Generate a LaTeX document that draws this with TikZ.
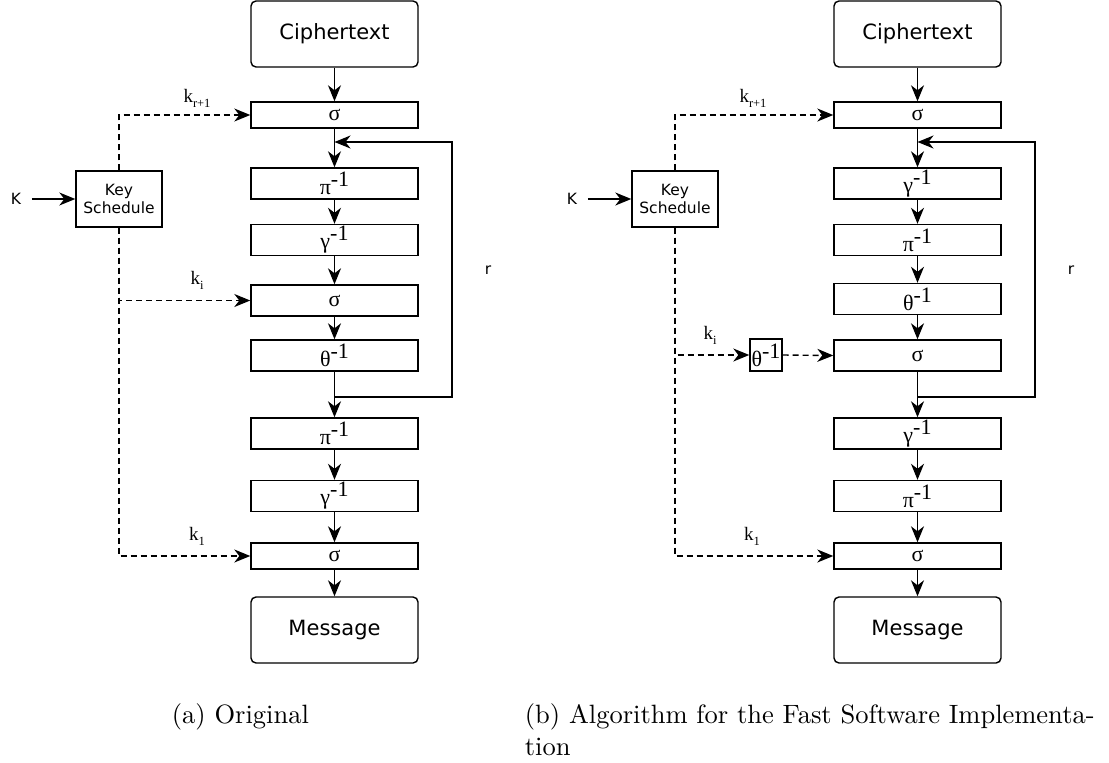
\documentclass[tikz,border=0pt]{standalone}
\usepackage{fontspec}
\usetikzlibrary{arrows.meta}
\newfontfamily\sansf{DejaVu Sans}
\newfontfamily\serf{Liberation Serif}
\newcommand{\inv}[1]{#1\raisebox{8pt}{-1}}
\newcommand{\klab}[1]{{\fontsize{19}{19}\selectfont k}\raisebox{-5pt}{\fontsize{12.5}{12.5}\selectfont #1}}
\tikzset{
  arr/.style={-{Stealth[length=16pt,width=13pt,inset=5pt]}},
  dsh/.style={dash pattern=on 6pt off 4pt},
  bigbox/.style={draw,rounded corners=5pt,minimum width=167pt,minimum height=66pt,inner sep=0pt,font=\sansf\fontsize{21}{21}\selectfont},
  opbox/.style={draw,minimum width=167pt,minimum height=31pt,inner sep=0pt,font=\serf\fontsize{22}{22}\selectfont},
  sgbox/.style={opbox,minimum height=26pt},
  ksbox/.style={draw,minimum width=86pt,minimum height=56pt,inner sep=0pt,align=center,font=\sansf\fontsize{15.5}{18}\selectfont},
  smallbox/.style={draw,minimum width=32pt,minimum height=32pt,inner sep=0pt,font=\serf\fontsize{22}{22}\selectfont},
  lab/.style={inner sep=0pt,font=\serf},
  slab/.style={inner sep=0pt,font=\sansf\fontsize{15.5}{15.5}\selectfont},
  captext/.style={inner sep=0pt,anchor=base west,align=left,scale=2.65,transform shape,font=\fontsize{10}{12}\selectfont}
}
\begin{document}
\begin{tikzpicture}[x=1pt,y=-1pt,line width=1.4pt]
\useasboundingbox (0,0) rectangle (1109,763);
% ---------- (a) ----------
\node[bigbox] (ca) at (334.5,34) {Ciphertext};
\node[sgbox] (as1) at (334.5,115) {σ};
\node[opbox] (ap1) at (334.5,183.5) {\inv{π}};
\node[opbox] (ag1) at (334.5,240) {\inv{γ}};
\node[opbox] (as2) at (334.5,300.5) {σ};
\node[opbox] (at1) at (334.5,355.5) {\inv{θ}};
\node[opbox] (ap2) at (334.5,433.5) {\inv{π}};
\node[opbox] (ag2) at (334.5,496) {\inv{γ}};
\node[sgbox] (as3) at (334.5,556) {σ};
\node[bigbox] (ma) at (334.5,630) {Message};
\node[ksbox] (ksa) at (119,199) {Key\\Schedule};
\node[slab] (Ka) at (16,199) {K};
\node[slab] (ra) at (488,270) {r};
\node[lab] (kra) at (197,98) {\klab{r+1}};
\node[lab] (kia) at (197,280) {\klab{i}};
\node[lab] (k1a) at (197,536) {\klab{1}};
\coordinate (la1) at (334.5,397);
\coordinate (la2) at (452,397);
\coordinate (la3) at (452,142);
\coordinate (la4) at (334.5,142);
\draw[arr] (ca) -- (as1);
\draw[arr] (as1) -- (ap1);
\draw[arr] (ap1) -- (ag1);
\draw[arr] (ag1) -- (as2);
\draw[arr] (as2) -- (at1);
\draw[arr] (at1) -- (ap2);
\draw[arr] (ap2) -- (ag2);
\draw[arr] (ag2) -- (as3);
\draw[arr] (as3) -- (ma);
\draw[arr] (la1) -- (la2) -- (la3) -- (la4);
\draw[arr] (Ka.east) ++(10,0) -- (ksa.west);
\draw[arr,dsh] (ksa.north) |- (as1.west);
\draw[arr,dsh] (ksa.south) |- (as2.west);
\draw[arr,dsh] (ksa.south) |- (as3.west);
% ---------- (b) ----------
\node[bigbox] (cb) at (917.5,34) {Ciphertext};
\node[sgbox] (bs1) at (917.5,115) {σ};
\node[opbox] (bg1) at (917.5,183.5) {\inv{γ}};
\node[opbox] (bp1) at (917.5,240) {\inv{π}};
\node[opbox] (bt1) at (917.5,299) {\inv{θ}};
\node[opbox] (bs2) at (917.5,355.5) {σ};
\node[opbox] (bg2) at (917.5,433.5) {\inv{γ}};
\node[opbox] (bp2) at (917.5,496) {\inv{π}};
\node[sgbox] (bs3) at (917.5,556) {σ};
\node[bigbox] (mb) at (917.5,630) {Message};
\node[ksbox] (ksb) at (675,199) {Key\\Schedule};
\node[slab] (Kb) at (572,199) {K};
\node[slab] (rb) at (1071,270) {r};
\node[smallbox] (tb) at (766,355) {\inv{θ}};
\node[lab] (krb) at (753,98) {\klab{r+1}};
\node[lab] (kib) at (710,335) {\klab{i}};
\node[lab] (k1b) at (752,536) {\klab{1}};
\coordinate (lb1) at (917.5,397);
\coordinate (lb2) at (1035,397);
\coordinate (lb3) at (1035,142);
\coordinate (lb4) at (917.5,142);
\draw[arr] (cb) -- (bs1);
\draw[arr] (bs1) -- (bg1);
\draw[arr] (bg1) -- (bp1);
\draw[arr] (bp1) -- (bt1);
\draw[arr] (bt1) -- (bs2);
\draw[arr] (bs2) -- (bg2);
\draw[arr] (bg2) -- (bp2);
\draw[arr] (bp2) -- (bs3);
\draw[arr] (bs3) -- (mb);
\draw[arr] (lb1) -- (lb2) -- (lb3) -- (lb4);
\draw[arr] (Kb.east) ++(10,0) -- (ksb.west);
\draw[arr,dsh] (ksb.north) |- (bs1.west);
\draw[arr,dsh] (ksb.south) |- (tb.west);
\draw[arr,dsh] (tb.east) -- (bs2.west);
\draw[arr,dsh] (ksb.south) |- (bs3.west);
% ---------- captions ----------
\node[captext] (capa) at (170,723) {(a) Original};
\node[captext] (capb) at (523,755) {(b) Algorithm for the Fast Software Implementa-\\tion};
\end{tikzpicture}
\end{document}
